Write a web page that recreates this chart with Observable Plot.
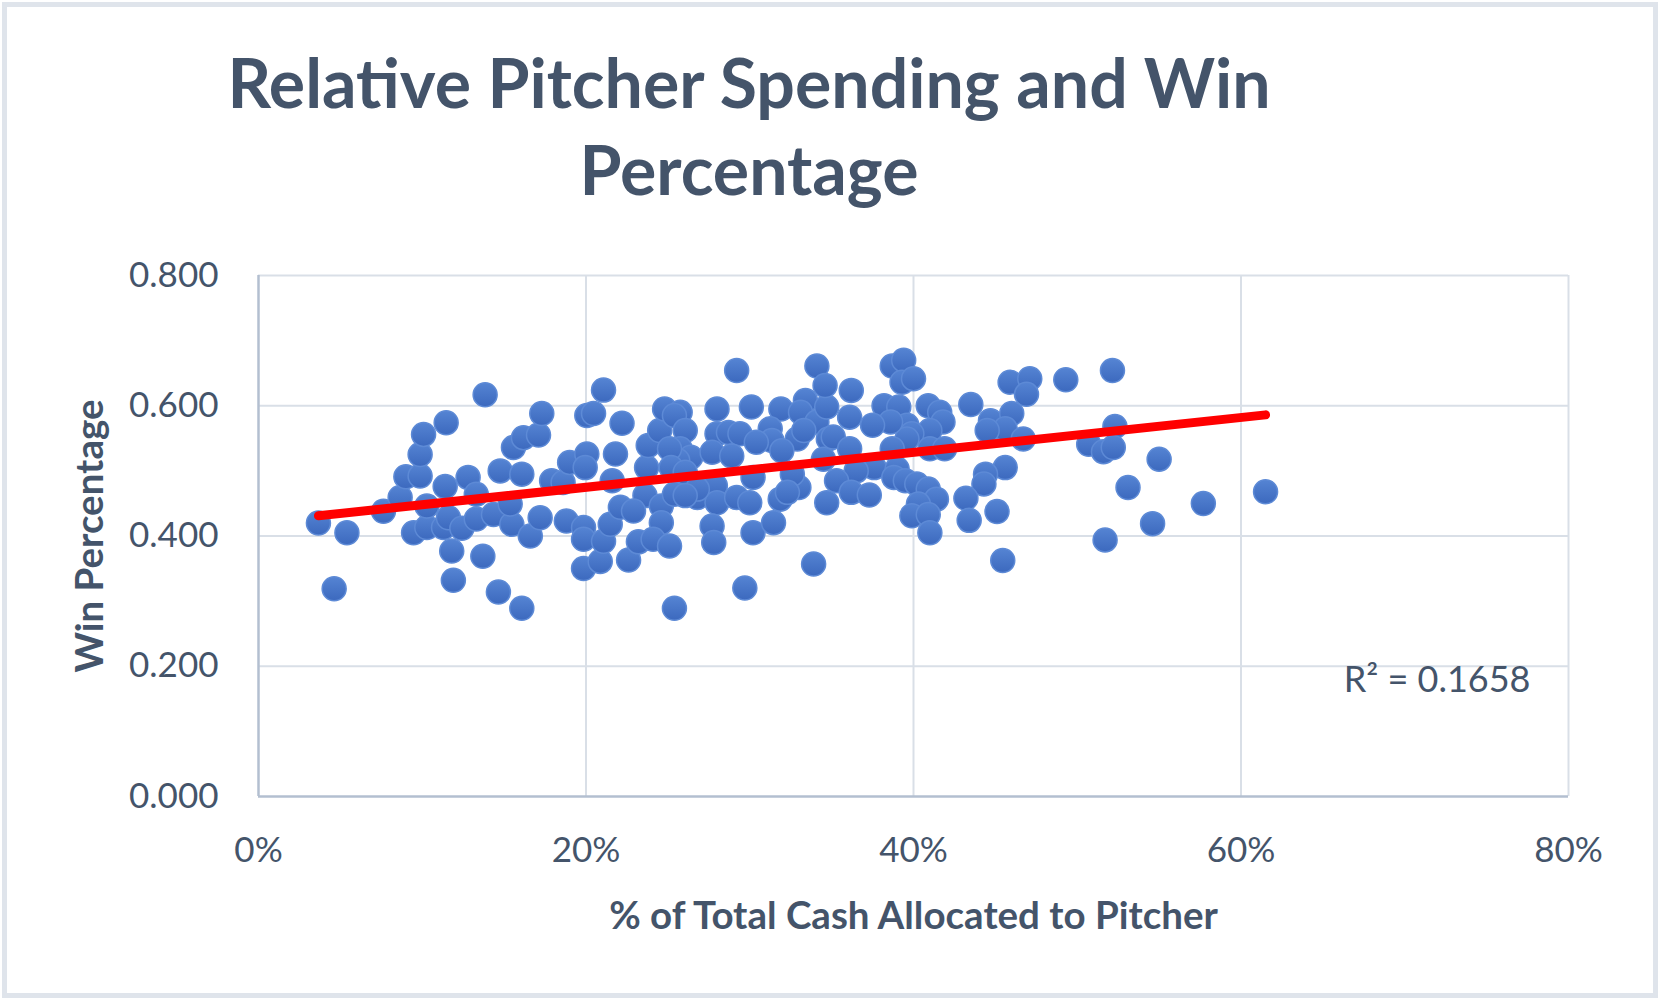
<!DOCTYPE html>
<html>
<head>
<meta charset="utf-8">
<script src="https://cdn.jsdelivr.net/npm/d3@7"></script>
<script src="https://cdn.jsdelivr.net/npm/@observablehq/plot@0.6"></script>
<style>
  html, body { margin: 0; padding: 0; background: #ffffff; }
  #card { position: relative; width: 1663px; height: 1003px; background: #ffffff; overflow: hidden; }
  #frame { position: absolute; left: 2px; top: 2px; width: 1656px; height: 996px; box-sizing: border-box; border: 5px solid #DFE4EB; pointer-events: none; }
  #title { position: absolute; left: 0; top: 38px; width: 1498px; text-align: center; font-family: Lato, "Open Sans", sans-serif; font-weight: 700; font-size: 68px; line-height: 87.4px; color: #44546A; }
  #chart { position: absolute; left: 0; top: 0; }
</style>
</head>
<body>
<div id="card">
  <div id="chart"></div>
  <div id="title">Relative Pitcher Spending and Win<br>Percentage</div>
  <div id="frame"></div>
</div>
<script>
// % of total cash allocated to pitcher (x) and win percentage (y)
const spendShare = [
  3.66, 5.4, 4.62, 7.63, 8.65, 9.0, 9.87, 9.87, 10.08, 11.46, 13.84, 9.47, 10.28, 10.28, 11.4, 11.3, 11.6, 12.42, 11.8, 11.9,
  12.8, 13.3, 13.3, 13.7, 14.35, 14.65, 14.76, 15.47, 15.57, 16.18, 16.08, 15.37, 16.08, 16.6, 17.1, 17.3, 17.2, 17.9, 18.6, 18.8,
  19.0, 20.05, 20.05, 20.46, 19.85, 19.85, 19.85, 20.87, 21.07, 21.48, 21.07, 19.95, 21.8, 21.6, 22.2, 22.1, 22.6, 23.2, 23.7, 23.8,
  24.5, 24.8, 23.6,
  25.75, 25.4, 26.06, 25.75, 26.4, 25.6, 28.0, 30.1, 31.9, 33.4, 33.1, 34.1, 34.7, 28.0, 28.7, 29.4, 31.25, 31.35, 30.4, 32.9,
  33.3, 34.8, 27.7, 28.9, 31.96, 34.5, 22.9, 24.6, 25.4, 24.6, 24.1, 25.1, 26.8, 27.9, 28.0, 29.2, 30.0, 30.2, 27.7, 27.8,
  30.2, 31.45, 31.86, 33.0, 34.7, 33.9, 29.7, 25.4, 32.6, 32.3, 25.1, 25.2, 26.06, 26.8, 26.06, 29.2, 34.1, 34.6,
  38.7, 39.4, 39.3, 40.0, 36.2, 43.5, 45.9, 47.1, 46.9, 38.2, 39.1, 40.9, 41.6, 41.8, 41.0, 39.6, 39.9, 39.6, 38.6, 37.5,
  36.1, 35.1, 36.1, 38.7, 41.0, 41.9, 44.7, 46.0, 45.6, 44.5, 46.7, 37.6, 36.5, 35.3, 36.2, 37.3, 39.0, 38.8, 39.5, 40.2,
  40.9, 41.4, 40.3, 39.9, 40.9, 41.0, 45.6, 44.4, 44.3, 43.2, 43.4, 45.1, 45.45,
  49.3, 52.15, 52.3, 50.7, 51.6, 52.2, 55.0, 53.1, 57.7, 61.5, 54.6, 51.7
];
const winPct = [
  0.420, 0.405, 0.319, 0.438, 0.459, 0.491, 0.492, 0.525, 0.556, 0.574, 0.617, 0.405, 0.413, 0.446, 0.476, 0.413, 0.428, 0.412, 0.377, 0.332,
  0.490, 0.464, 0.426, 0.369, 0.433, 0.314, 0.500, 0.418, 0.536, 0.551, 0.495, 0.449, 0.289, 0.400, 0.555, 0.588, 0.428, 0.485, 0.482, 0.423,
  0.513, 0.526, 0.585, 0.588, 0.413, 0.395, 0.350, 0.361, 0.392, 0.418, 0.624, 0.505, 0.526, 0.485, 0.573, 0.444, 0.363, 0.391, 0.505, 0.539,
  0.562, 0.595, 0.462,
  0.590, 0.585, 0.562, 0.534, 0.521, 0.516, 0.595, 0.598, 0.595, 0.608, 0.590, 0.575, 0.598, 0.557, 0.559, 0.557, 0.5645, 0.5465, 0.544, 0.549,
  0.562, 0.549, 0.5285, 0.523, 0.531, 0.518, 0.4385, 0.446, 0.464, 0.4205, 0.395, 0.3845, 0.459, 0.477, 0.451, 0.459, 0.451, 0.490, 0.4155, 0.390,
  0.405, 0.4205, 0.4566, 0.4745, 0.451, 0.357, 0.320, 0.289, 0.495, 0.467, 0.534, 0.505, 0.498, 0.472, 0.462, 0.654, 0.661, 0.631,
  0.661, 0.670, 0.636, 0.6416, 0.6236, 0.602, 0.636, 0.6416, 0.6175, 0.600, 0.598, 0.600, 0.590, 0.575, 0.562, 0.570, 0.557, 0.549, 0.575, 0.570,
  0.5825, 0.552, 0.534, 0.534, 0.534, 0.534, 0.577, 0.588, 0.5645, 0.562, 0.549, 0.505, 0.500, 0.485, 0.467, 0.463, 0.503, 0.490, 0.485, 0.480,
  0.472, 0.4566, 0.449, 0.431, 0.433, 0.405, 0.505, 0.495, 0.480, 0.458, 0.424, 0.4375, 0.3625,
  0.640, 0.654, 0.568, 0.541, 0.5295, 0.536, 0.518, 0.4745, 0.450, 0.468, 0.419, 0.394
];
// linear trendline as shown in the original (ends)
const trendShare = [3.66, 61.5];
const trendWin = [0.431, 0.586];

const xTicks = [0, 20, 40, 60, 80];
const yTicks = [0, 0.2, 0.4, 0.6, 0.8];
const xTitle = "% of Total Cash Allocated to Pitcher";
const yTitle = "Win Percentage";
const r2Label = "R² = 0.1658";

const data = spendShare.map((x, i) => ({x, y: winPct[i]}));
const trend = trendShare.map((x, i) => ({x, y: trendWin[i]}));
const textColor = "#44546A";

const plot = Plot.plot({
  width: 1663,
  height: 960,
  marginLeft: 258,
  marginRight: 95,
  marginTop: 275,
  marginBottom: 164,
  style: {fontFamily: "Lato, 'Open Sans', sans-serif", fontSize: "35px", color: textColor, background: "transparent", overflow: "visible"},
  x: {domain: [0, 80], ticks: xTicks, tickFormat: d => d + "%", tickSize: 0, tickPadding: 41, label: null, line: false},
  y: {domain: [0, 0.8], ticks: yTicks, tickFormat: d3.format(".3f"), tickSize: 0, tickPadding: 40, label: null, line: false},
  marks: [
    Plot.ruleX(xTicks.slice(1), {stroke: "#D9DFE7", strokeWidth: 2}),
    Plot.ruleY(yTicks.slice(1), {stroke: "#D9DFE7", strokeWidth: 2}),
    Plot.ruleX([0], {stroke: "#B3BFD0", strokeWidth: 2.5}),
    Plot.ruleY([0], {stroke: "#B3BFD0", strokeWidth: 2.5}),
    Plot.dot(data, {x: "x", y: "y", r: 12, fill: "#4472C4", stroke: "#5D8AD6", strokeWidth: 1.5}),
    Plot.line(trend, {x: "x", y: "y", stroke: "#FF0000", strokeWidth: 9, strokeLinecap: "round"}),
    Plot.text([r2Label], {text: d => d, frameAnchor: "bottom-right", dx: -38, dy: -116, textAnchor: "end", lineAnchor: "middle", fontSize: 36, fill: textColor}),
    Plot.text([xTitle], {text: d => d, frameAnchor: "bottom", dy: 120, textAnchor: "middle", lineAnchor: "middle", fontSize: 38.5, fontWeight: "bold", fill: textColor}),
    Plot.text([yTitle], {text: d => d, frameAnchor: "left", dx: -168, rotate: -90, textAnchor: "middle", lineAnchor: "middle", fontSize: 38.5, fontWeight: "bold", fill: textColor})
  ]
});

// subtle gradient on the markers, as in the original
const svg = d3.select(plot);
const grad = svg.insert("defs", ":first-child").append("linearGradient")
  .attr("id", "dotGrad").attr("x1", 0).attr("y1", 0).attr("x2", 0).attr("y2", 1);
grad.append("stop").attr("offset", "0%").attr("stop-color", "#5584D3");
grad.append("stop").attr("offset", "100%").attr("stop-color", "#3C69BE");
svg.selectAll("circle").attr("fill", "url(#dotGrad)");

document.getElementById("chart").appendChild(plot);
</script>
</body>
</html>
